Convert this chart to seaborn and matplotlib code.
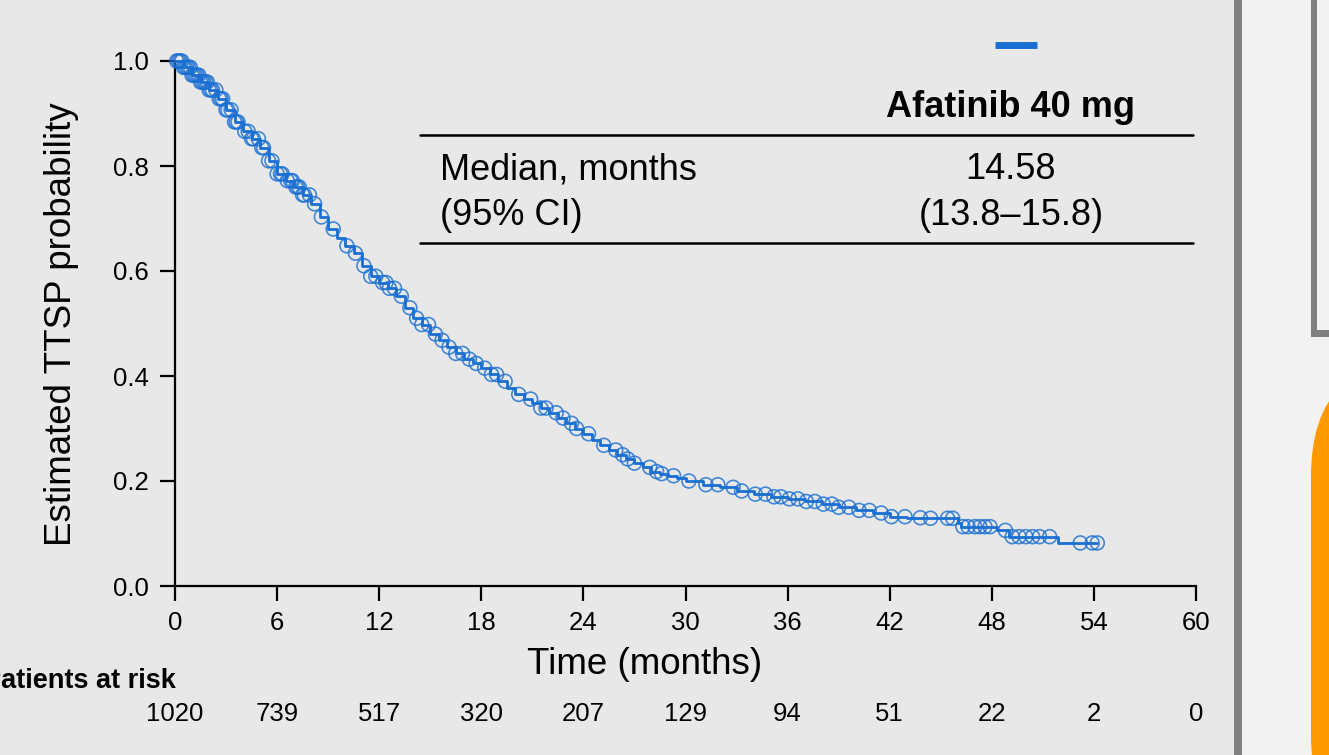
"""
Kaplan-Meier style plot: time to study progression (TTSP), afatinib 40 mg
"""

import numpy as np
import pandas as pd
import matplotlib
matplotlib.use("Agg")
import matplotlib.pyplot as plt
import matplotlib.patches as mpatches
import matplotlib.transforms as mtransforms
import seaborn as sns

# data
step_time = [0, 0.5, 1, 1.5, 2, 2.5, 3, 3.5, 4, 4.5, 5, 5.5, 6, 6.5, 7, 7.5, 8,
             8.5, 9, 9.5, 10, 10.5, 11, 11.5, 12, 12.5, 13, 13.5, 14, 14.5, 15,
             15.5, 16, 16.5, 17, 17.5, 18, 18.5, 19, 19.5, 20, 20.5, 21, 21.5,
             22, 22.5, 23, 23.5, 24, 24.5, 25, 25.5, 26, 26.5, 27, 27.5, 28,
             28.5, 29, 29.5, 30, 31, 32, 33, 34, 35, 36, 37, 38, 39, 40, 41, 42,
             43, 44, 46, 46.2, 48.3, 49, 51.9, 54.2]
step_surv = [1.0, 0.988, 0.973, 0.960, 0.945, 0.928, 0.907, 0.884, 0.866, 0.852,
             0.835, 0.810, 0.785, 0.772, 0.760, 0.745, 0.728, 0.703, 0.680, 0.662,
             0.648, 0.634, 0.610, 0.590, 0.578, 0.567, 0.552, 0.530, 0.510, 0.498,
             0.480, 0.468, 0.455, 0.443, 0.432, 0.424, 0.415, 0.403, 0.390, 0.377,
             0.365, 0.356, 0.348, 0.339, 0.330, 0.320, 0.310, 0.300, 0.290, 0.279,
             0.268, 0.259, 0.250, 0.242, 0.234, 0.226, 0.218, 0.214, 0.210, 0.205,
             0.200, 0.193, 0.188, 0.181, 0.175, 0.170, 0.166, 0.161, 0.156, 0.150,
             0.144, 0.139, 0.132, 0.130, 0.129, 0.120, 0.113, 0.106, 0.094, 0.082,
             0.082]

censor_time = [0.1, 0.2, 0.3, 0.4, 0.5, 0.6, 0.7, 0.8, 0.9, 1.0, 1.1, 1.2, 1.3,
               1.4, 1.5, 1.6, 1.7, 1.8, 1.9, 2.0, 2.1, 2.2, 2.4, 2.6, 2.7, 2.8,
               3.0, 3.1, 3.3, 3.5, 3.6, 3.7, 4.1, 4.3, 4.5, 4.6, 4.9, 5.1, 5.2,
               5.5, 5.7, 6.0, 6.2, 6.3, 6.6, 6.8, 6.9, 7.1, 7.2, 7.3, 7.5, 7.6,
               7.9, 8.2, 8.6, 9.3, 10.1, 10.6, 11.1, 11.5, 11.8, 12.2, 12.4, 12.6,
               12.9, 13.3, 13.8, 14.2, 14.5, 14.9, 15.3, 15.7, 16.1, 16.5, 16.9,
               17.3, 17.7, 18.2, 18.6, 18.9, 19.4, 20.2, 20.9, 21.5, 21.8, 22.4,
               22.8, 23.3, 23.6, 24.3, 25.2, 25.9, 26.3, 26.6, 27.0, 27.9, 28.3,
               28.6, 29.3, 30.2, 31.2, 31.9, 32.8, 33.3, 34.1, 34.7, 35.2, 35.6,
               36.1, 36.6, 37.1, 37.6, 38.1, 38.6, 39.0, 39.6, 40.2, 40.8, 41.5,
               42.1, 42.9, 43.8, 44.4, 45.4, 45.7, 46.3, 46.6, 47.0, 47.3, 47.6,
               47.9, 48.8, 49.2, 49.6, 50.0, 50.4, 50.8, 51.4, 53.2, 53.9, 54.2]

risk_time = [0, 6, 12, 18, 24, 30, 36, 42, 48, 54, 60]
risk_n = [1020, 739, 517, 320, 207, 129, 94, 51, 22, 2, 0]

arm = "Afatinib 40 mg"
median_txt = "14.58"
ci_txt = "(13.8\u201315.8)"

BLUE = "#1a6fd2"
BG = "#e8e8e8"

sns.set_theme(style="ticks")
plt.rcParams["font.family"] = ["Liberation Sans", "DejaVu Sans"]
plt.rcParams["text.color"] = "black"
plt.rcParams["axes.labelcolor"] = "black"

curve = pd.DataFrame({"time": step_time, "surv": step_surv})
idx = np.searchsorted(np.array(step_time), np.array(censor_time), side="right") - 1
cens = pd.DataFrame({"time": censor_time, "surv": np.array(step_surv)[idx]})

fig = plt.figure(figsize=(13.29, 7.55), dpi=100)
fig.patch.set_facecolor(BG)

# pixel-space layer for the table and the page decorations
deco = fig.add_axes([0, 0, 1, 1], zorder=0)
deco.set_xlim(0, 1329)
deco.set_ylim(755, 0)
deco.axis("off")

deco.add_patch(mpatches.Rectangle((1242, 0), 87, 755, color="#f2f2f2", lw=0))
deco.add_patch(mpatches.Rectangle((1234, 0), 8, 755, color="#808080", lw=0))
deco.add_patch(mpatches.Rectangle((1311, 0), 6, 337, color="#808080", lw=0))
deco.add_patch(mpatches.Rectangle((1311, 330), 20, 7, color="#808080", lw=0))
deco.add_patch(mpatches.FancyBboxPatch((1311, 356), 300, 500,
                                       boxstyle="round,pad=0,rounding_size=120",
                                       color="#ff9900", lw=0))

# summary table
deco.plot([995, 1037], [44.5, 44.5], color=BLUE, lw=5, solid_capstyle="butt")
deco.text(1011, 117, arm, ha="center", va="baseline", fontsize=26, fontweight="bold")
deco.plot([420, 1193], [134.5, 134.5], color="black", lw=1.8)
deco.text(440, 179, "Median, months", ha="left", va="baseline", fontsize=26)
deco.text(440, 225, "(95% CI)", ha="left", va="baseline", fontsize=26)
deco.text(1011, 179, median_txt, ha="center", va="baseline", fontsize=26)
deco.text(1011, 225, ci_txt, ha="center", va="baseline", fontsize=26)
deco.plot([420, 1193], [242.5, 242.5], color="black", lw=1.8)

# main KM axes
ax = fig.add_axes([175 / 1329, 169 / 755, 1021 / 1329, 525 / 755], zorder=1)
ax.set_facecolor("none")
sns.lineplot(data=curve, x="time", y="surv", drawstyle="steps-post",
             color=BLUE, lw=2.0, ax=ax, zorder=3, clip_on=False)
sns.scatterplot(data=cens, x="time", y="surv", marker="o", s=100,
                facecolor="none", edgecolor=BLUE, linewidth=1.2, alpha=0.8,
                ax=ax, zorder=4, clip_on=False)

ax.set_xlim(0, 60)
ax.set_ylim(0, 1)
ax.set_xticks(risk_time)
ax.set_yticks([0, 0.2, 0.4, 0.6, 0.8, 1.0])
ax.set_yticklabels([f"{v:.1f}" for v in [0, 0.2, 0.4, 0.6, 0.8, 1.0]])
ax.set_xlabel("")
ax.set_ylabel("")
sns.despine(ax=ax)
for s in ["left", "bottom"]:
    ax.spines[s].set_linewidth(1.6)
    ax.spines[s].set_color("black")
ax.tick_params(axis="both", direction="out", length=11, width=1.6,
               labelsize=18.5, colors="black")
ax.tick_params(axis="x", pad=7)
ax.tick_params(axis="y", pad=8)

fig.text(62 / 1329, 1 - 324 / 755, "Estimated TTSP probability", rotation=90,
         ha="center", va="center", fontsize=26.5)
fig.text(645 / 1329, 1 - 664 / 755, "Time (months)", ha="center", va="center",
         fontsize=26.5)

# number at risk (left edge is cut off in the original as well)
fig.text(176 / 1329, 1 - 681 / 755, "Patients at risk", ha="right", va="center",
         fontsize=19.5, fontweight="bold")
trans = mtransforms.blended_transform_factory(ax.transData, fig.transFigure)
for t, n in zip(risk_time, risk_n):
    ax.text(t, 1 - 714 / 755, str(n), transform=trans, ha="center", va="center",
            fontsize=18.5, clip_on=False)

fig.savefig("out.png", dpi=100, facecolor=BG)
